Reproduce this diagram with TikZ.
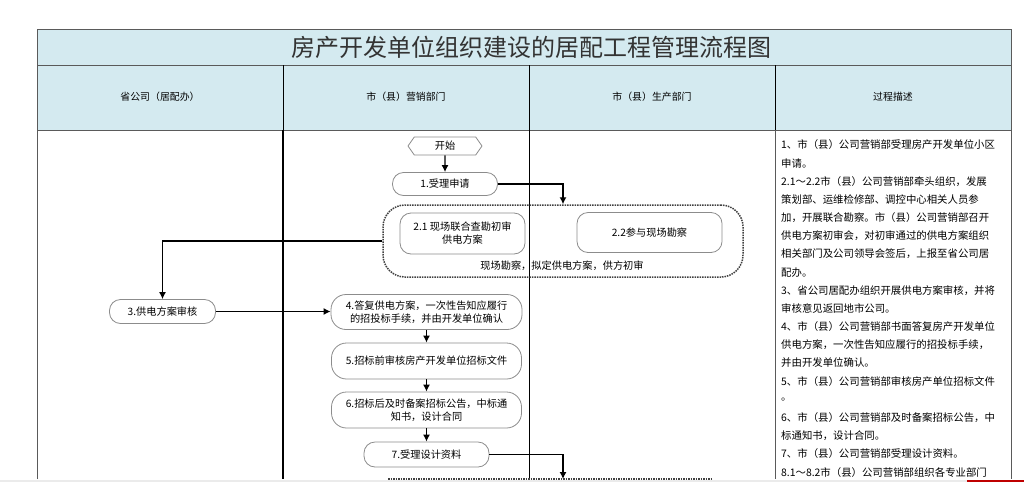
\documentclass[tikz,border=0pt]{standalone}
\usepackage{fontspec}
\setmainfont{Noto Sans CJK SC}
\usetikzlibrary{shapes.symbols,arrows.meta}

\definecolor{hdrblue}{RGB}{212,234,240}
\definecolor{framegray}{RGB}{90,90,90}
\definecolor{boxgray}{RGB}{140,140,140}

\tikzset{
  proc/.style={shape=rectangle,draw=boxgray,fill=white,rounded corners=11pt,align=center,line width=0.8pt,inner sep=0pt,font=\fontsize{10.2}{13}\selectfont},
  grp/.style={draw=black!75,densely dotted,line width=1.5pt,rounded corners=22pt},
  flow/.style={-{Latex[length=7pt,width=7pt]},draw=black,line width=1.2pt},
  hdr/.style={font=\fontsize{9.9}{12}\selectfont},
  desc/.style={anchor=west,inner sep=0pt,font=\fontsize{10.4}{12}\selectfont}
}

\begin{document}
\begin{tikzpicture}[x=1pt,y=-1pt]
\useasboundingbox (0,0) rectangle (1024,482);
% table
\fill[hdrblue] (37,29) rectangle (1011,130);
\draw[framegray,line width=0.8pt] (37,479) -- (37,29) -- (1011,29) -- (1011,479);
\draw[framegray,line width=0.8pt] (37,65) -- (1011,65) (37,130) -- (1011,130);
\draw[black,line width=0.8pt] (283,65) -- (283,130) (529,65) -- (529,130) (775,65) -- (775,130);
\draw[black,line width=2pt] (283,130) -- (283,479);
\draw[black,line width=0.8pt] (529,130) -- (529,479);
\draw[framegray,line width=0.8pt] (775,130) -- (775,479);

\node[font=\fontsize{24}{28}\selectfont,text=black!80] (title) at (531,47) {房产开发单位组织建设的居配工程管理流程图};
\node[hdr] (h1) at (160,97) {省公司（居配办）};
\node[hdr] (h2) at (406,97) {市（县）营销部门};
\node[hdr] (h3) at (652,97) {市（县）生产部门};
\node[hdr] (h4) at (893,97) {过程描述};

% flow
\node[shape=signal,signal to=west and east,signal pointer angle=110,draw=boxgray,fill=white,line width=0.8pt,minimum width=74pt,minimum height=18pt,inner sep=0pt,font=\fontsize{10.2}{13}\selectfont] (start) at (445,146) {开始};
\node[proc,minimum width=105pt,minimum height=23pt] (n1) at (445,184) {1.受理申请};
\node[grp,minimum width=360pt,minimum height=72pt] (g2) at (563,241) {};
\node[font=\fontsize{10.2}{13}\selectfont] (g2lbl) at (562,266) {现场勘察，拟定供电方案，供方初审};
\node[proc,minimum width=125pt,minimum height=41pt] (n21) at (462.5,233.5) {2.1 现场联合查勘初审\\供电方案};
\node[proc,minimum width=145pt,minimum height=40pt] (n22) at (649.5,232.5) {2.2参与现场勘察};
\node[proc,minimum width=106pt,minimum height=24pt] (n3) at (162.5,311.5) {3.供电方案审核};
\node[proc,minimum width=191pt,minimum height=35pt,rounded corners=15pt] (n4) at (426.5,312) {4.答复供电方案，一次性告知应履行\\的招投标手续，并由开发单位确认};
\node[proc,minimum width=190pt,minimum height=36pt,rounded corners=15pt] (n5) at (426.5,361) {5.招标前审核房产开发单位招标文件};
\node[proc,minimum width=190pt,minimum height=36pt,rounded corners=15pt] (n6) at (426.5,410) {6.招标后及时备案招标公告，中标通\\知书，设计合同};
\node[proc,minimum width=125pt,minimum height=25pt] (n7) at (426.5,454.5) {7.受理设计资料};
\coordinate (g8) at (563,479);
\draw[grp] (388,479) -- (713,479);

\draw[flow] (start) -- (n1);
\draw[flow] (n1) -| (g2);
\draw[flow] (g2) -| (n3);
\draw[flow] (n3.east) -- (n3.east -| n4.west);
\draw[flow] (n4) -- (n5);
\draw[flow] (n5) -- (n6);
\draw[flow] (n6) -- (n7);
\draw[flow] (n7) -| (g8);

% description
\foreach \t [count=\i from 0] in {
  {1、市（县）公司营销部受理房产开发单位小区},
  {申请。},
  {2.1～2.2市（县）公司营销部牵头组织，发展},
  {策划部、运维检修部、调控中心相关人员参},
  {加，开展联合勘察。市（县）公司营销部召开},
  {供电方案初审会，对初审通过的供电方案组织},
  {相关部门及公司领导会签后，上报至省公司居},
  {配办。},
  {3、省公司居配办组织开展供电方案审核，并将},
  {审核意见返回地市公司。},
  {4、市（县）公司营销部书面答复房产开发单位},
  {供电方案，一次性告知应履行的招投标手续，},
  {并由开发单位确认。},
  {5、市（县）公司营销部审核房产单位招标文件},
  {。},
  {6、市（县）公司营销部及时备案招标公告，中},
  {标通知书，设计合同。},
  {7、市（县）公司营销部受理设计资料。},
  {8.1～8.2市（县）公司营销部组织各专业部门}}
  \node[desc] (d\i) at (781,145+18.17*\i) {\t};

% bottom edge of screen
\fill[black!8] (0,480) rectangle (1024,482);
\fill[red!75!black] (967,480) rectangle (1024,482);
\end{tikzpicture}
\end{document}
